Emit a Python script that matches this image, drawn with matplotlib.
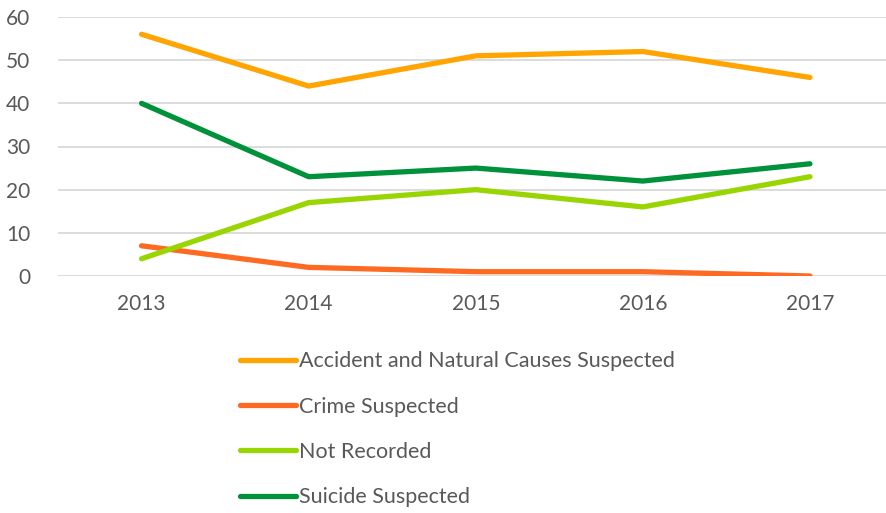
import matplotlib
matplotlib.use("Agg")
import matplotlib.pyplot as plt

years = ["2013", "2014", "2015", "2016", "2017"]
accident = [56, 44, 51, 52, 46]
crime = [7, 2, 1, 1, 0]
not_recorded = [4, 17, 20, 16, 23]
suicide = [40, 23, 25, 22, 26]

series = [
    ("Accident and Natural Causes Suspected", accident, "#FFA400"),
    ("Crime Suspected", crime, "#FF6A22"),
    ("Not Recorded", not_recorded, "#99D500"),
    ("Suicide Suspected", suicide, "#00923A"),
]

plt.rcParams['font.family'] = ['Lato', 'DejaVu Sans']
fig = plt.figure(figsize=(8.86, 5.13), dpi=100)
ax = fig.add_axes([58/886, 237/513, (893.5-58)/886, (496-237)/513])

x = list(range(len(years)))
handles = []
for name, vals, col in series:
    h, = ax.plot(x, vals, color=col, lw=3.8, solid_capstyle='round', solid_joinstyle='round', label=name)
    handles.append(h)

ax.set_xlim(-0.5, len(years) - 0.5)
ax.set_ylim(0, 60)
ax.set_yticks(range(0, 61, 10))
ax.set_xticks(x)
ax.set_xticklabels(years)
ax.grid(axis='y', color='#D9D9D9', lw=1.3)
ax.set_axisbelow(True)
for s in ax.spines.values():
    s.set_visible(False)
ax.tick_params(axis='both', length=0, labelsize=15, colors='#595959')
ax.tick_params(axis='y', pad=20)
ax.tick_params(axis='x', pad=13)
for lbl in ax.get_yticklabels():
    lbl.set_clip_on(False)

leg = fig.legend(handles=handles, loc='upper left', bbox_to_anchor=(231/886, 1 - 342.5/513),
                 frameon=False, fontsize=15.5, handlelength=2.6, handletextpad=0.15,
                 labelspacing=1.18, borderaxespad=0)
for t in leg.get_texts():
    t.set_color('#595959')

fig.savefig("out.png", dpi=100)
